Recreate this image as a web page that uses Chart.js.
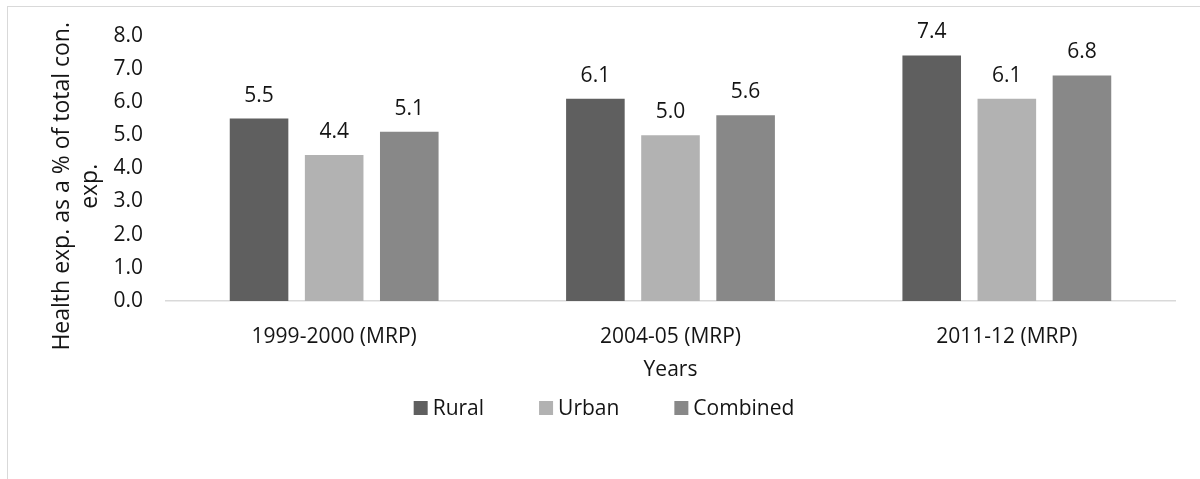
<!DOCTYPE html>
<html>
<head>
<meta charset="utf-8">
<script src="https://cdn.jsdelivr.net/npm/chart.js@4/dist/chart.umd.min.js"></script>
<style>
  html, body { margin: 0; padding: 0; background: #fff; }
  #frame { position: absolute; left: 7px; top: 6px; width: 1220px; height: 500px; border: 1px solid #d9d9d9; box-sizing: border-box; }
  #wrap { position: absolute; left: 0; top: 0; width: 1200px; height: 479px; }
</style>
</head>
<body>
<div id="frame"></div>
<div id="wrap"><canvas id="chart" width="1200" height="479"></canvas></div>
<script>
// Health expenditure share by survey round
const categories = ['1999-2000 (MRP)', '2004-05 (MRP)', '2011-12 (MRP)'];
const rural = [5.5, 6.1, 7.4];
const urban = [4.4, 5.0, 6.1];
const combined = [5.1, 5.6, 6.8];
const seriesNames = ['Rural', 'Urban', 'Combined'];
const yTicks = [0, 1, 2, 3, 4, 5, 6, 7, 8];

const FONT = "'Open Sans', sans-serif";
const TEXT = '#141414';

// linear axis whose title sits a little lower, centred on the axis plus category labels
class LinearLowTitle extends Chart.LinearScale {
  drawTitle() {
    this.ctx.save();
    this.ctx.translate(0, 18);
    super.drawTitle();
    this.ctx.restore();
  }
}
LinearLowTitle.id = 'linearLowTitle';
LinearLowTitle.defaults = Chart.LinearScale.defaults;
Chart.register(LinearLowTitle);

// value labels above each bar
const valueLabels = {
  id: 'valueLabels',
  afterDatasetsDraw(chart) {
    const ctx = chart.ctx;
    ctx.save();
    ctx.font = `21px ${FONT}`;
    ctx.fillStyle = TEXT;
    ctx.textAlign = 'center';
    ctx.textBaseline = 'middle';
    chart.data.datasets.forEach((ds, di) => {
      chart.getDatasetMeta(di).data.forEach((bar, i) => {
        ctx.fillText(ds.data[i].toFixed(1), bar.x, bar.y - 23);
      });
    });
    ctx.restore();
  }
};

// legend row under the axis title
const legendRow = {
  id: 'legendRow',
  afterDraw(chart) {
    const ctx = chart.ctx;
    const box = 14, gapText = 5, gapItem = 55;
    ctx.save();
    ctx.font = `21px ${FONT}`;
    ctx.textBaseline = 'middle';
    ctx.textAlign = 'left';
    const items = chart.data.datasets.map(ds => ({
      text: ds.label, color: ds.backgroundColor,
      w: box + gapText + ctx.measureText(ds.label).width
    }));
    const total = items.reduce((s, it) => s + it.w, 0) + gapItem * (items.length - 1);
    let x = chart.width / 2 - total / 2 + 4;
    const y = chart.scales.x.bottom + 25;
    items.forEach(it => {
      ctx.fillStyle = it.color;
      ctx.fillRect(x, y - box / 2, box, box);
      ctx.fillStyle = TEXT;
      ctx.fillText(it.text, x + box + gapText, y + 1);
      x += it.w + gapItem;
    });
    ctx.restore();
  }
};

new Chart(document.getElementById('chart'), {
  type: 'bar',
  data: {
    labels: categories,
    datasets: [
      { label: seriesNames[0], data: rural, backgroundColor: '#5f5f5f' },
      { label: seriesNames[1], data: urban, backgroundColor: '#b2b2b2' },
      { label: seriesNames[2], data: combined, backgroundColor: '#888888' }
    ]
  },
  options: {
    responsive: false,
    animation: false,
    layout: { padding: { left: 7, right: 25, top: 35, bottom: 96 } },
    datasets: { bar: { categoryPercentage: 0.67, barPercentage: 0.78 } },
    plugins: {
      legend: { display: false },
      tooltip: { enabled: false }
    },
    scales: {
      x: {
        grid: { display: false },
        border: { display: true, color: '#d9d9d9', width: 1.5 },
        ticks: { color: TEXT, font: { family: FONT, size: 21 }, padding: 15 },
        title: { display: true, text: 'Years', color: TEXT, font: { family: FONT, size: 21 }, padding: { top: 0, bottom: 0 } },
        afterFit(scale) { scale.height = 82; }
      },
      y: {
        type: 'linearLowTitle',
        min: 0, max: 8,
        afterBuildTicks(scale) { scale.ticks = yTicks.map(v => ({ value: v })); },
        grid: { display: false, drawTicks: false },
        border: { display: false },
        ticks: { color: TEXT, font: { family: FONT, size: 21 }, padding: 23, callback: v => Number(v).toFixed(1) },
        title: {
          display: true,
          text: ['Health exp. as a % of total con.', 'exp.'],
          color: TEXT,
          font: { family: FONT, size: 23, lineHeight: 1.24 },
          padding: { top: 41, bottom: 0 }
        },
        afterFit(scale) { scale.width = 159; }
      }
    }
  },
  plugins: [valueLabels, legendRow]
});
</script>
</body>
</html>
